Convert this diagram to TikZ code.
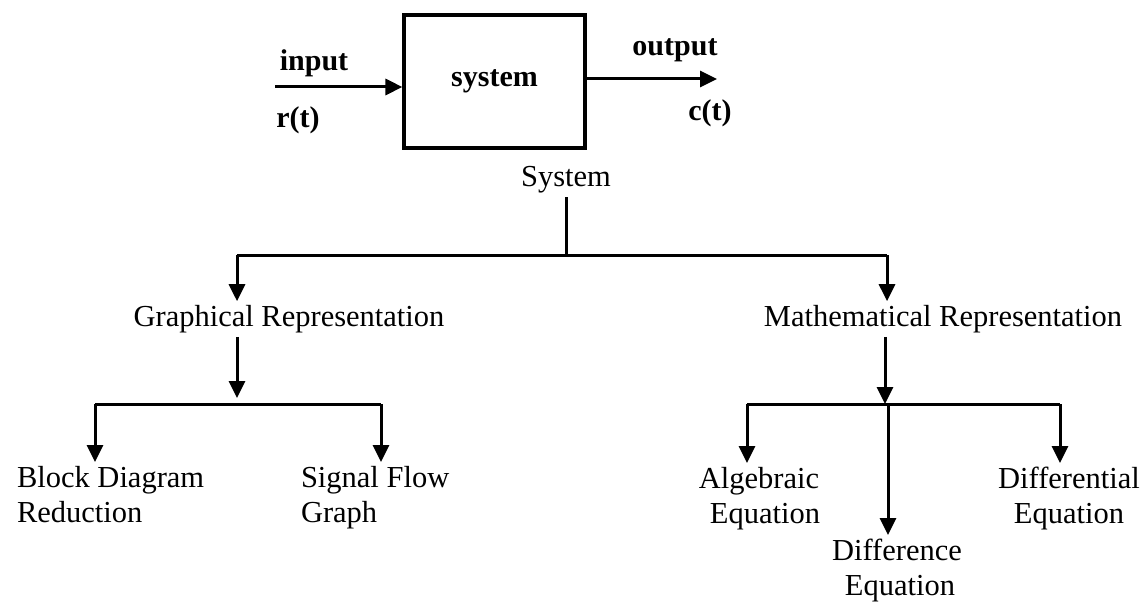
\documentclass[tikz,border=0pt]{standalone}
\usepackage{fontspec}
\setmainfont{Liberation Serif}
\usepackage{tikz}
\usetikzlibrary{positioning, arrows.meta, calc}

\tikzset{
  lbl/.style={font=\fontsize{30.5}{35.5}\selectfont, inner sep=0pt, outer sep=4pt},
  sig/.style={font=\fontsize{30}{36}\bfseries\selectfont, inner sep=0pt},
  link/.style={line width=3pt},
  flow/.style={link, -{Triangle[length=17pt,width=16pt]}},
}

\begin{document}
\begin{tikzpicture}[x=1pt, y=-1pt]
\useasboundingbox (0,0) rectangle (1147,604);
% the block with its signals
\node[draw, line width=3.2pt, minimum width=181pt, minimum height=133pt, sig] (sys) at (494.5,81.5) {system};
\coordinate (inA) at (275,87);
\coordinate (outB) at (717,79);
\draw[flow] (inA) -- (inA -| sys.west);
\draw[flow] (outB -| sys.east) -- (outB);
\node[sig] (inlbl) at (314,63) {input};
\node[sig] (rlbl) at (298,120) {r(t)};
\node[sig] (outlbl) at (675,50) {output};
\node[sig] (clbl) at (710,113) {c(t)};

% classification tree
\node[lbl] (root) at (566,180) {System};
\node[lbl] (gfx) at (289,319) {Graphical Representation};
\node[lbl] (mth) at (943,319) {Mathematical Representation};
\node[lbl, align=left, anchor=north west] (blk) at (13,462) {Block Diagram\\Reduction};
\node[lbl, align=left, anchor=north west] (sfg) at (297,462) {Signal Flow\\Graph};
\node[lbl, align=center, anchor=north] (alg) at (759,463) {Algebraic\\\hspace*{12pt}Equation};
\node[lbl, align=center, anchor=north] (dif) at (897,535) {Difference\\\hspace*{6pt}Equation};
\node[lbl, align=center, anchor=north] (dfl) at (1069,463) {Differential\\Equation};

\coordinate (rootfork) at (566,255);
\coordinate (gfork) at (237,255);
\coordinate (mfork) at (887,255);
\draw[link] (root.south) -- (rootfork);
\draw[link] (gfork) -- (mfork);
\draw[flow] (gfork) -- (gfork |- gfx.north);
\draw[flow] (mfork) -- (mfork |- mth.north);

% graphical branch
\coordinate (gsplit) at (237,404);
\coordinate (gl) at (95,404);
\coordinate (gr) at (381,404);
\draw[flow, shorten >=6pt] (gsplit |- gfx.south) -- (gsplit);
\draw[link] (gl) -- (gr);
\draw[flow] (gl) -- (gl |- blk.north);
\draw[flow] (gr) -- (gr |- sfg.north);

% mathematical branch
\coordinate (msplit) at (885,404);
\coordinate (ml) at (747,404);
\coordinate (mm) at (888,404);
\coordinate (mr) at (1060,404);
\draw[flow] (msplit |- mth.south) -- (msplit);
\draw[link] (ml) -- (mr);
\draw[flow] (ml) -- (ml |- alg.north);
\draw[flow] (mm) -- (mm |- dif.north);
\draw[flow] (mr) -- (mr |- dfl.north);
\end{tikzpicture}
\end{document}
